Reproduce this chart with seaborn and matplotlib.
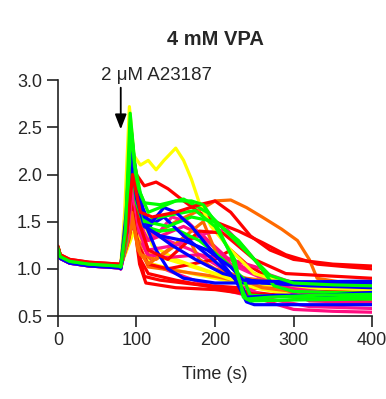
import pandas as pd
import seaborn as sns
import matplotlib.pyplot as plt

# shared resting baseline before the ionophore is added
base_t = [0, 3, 15, 40, 60, 78]
base_v = [1.22, 1.13, 1.08, 1.05, 1.04, 1.03]

# each cell trace after addition: (time s, ratio)
red_a = [(80, 1.03), (87, 1.6), (94, 2.3), (100, 2.0), (110, 1.88), (125, 1.92), (140, 1.85), (160, 1.72), (180, 1.6), (200, 1.5), (230, 1.4), (260, 1.28), (290, 1.15), (330, 1.05), (370, 1.02), (400, 1.0)]
red_b = [(80, 1.04), (88, 1.4), (95, 2.0), (105, 1.6), (120, 1.55), (150, 1.6), (180, 1.68), (200, 1.72), (220, 1.6), (245, 1.35), (270, 1.2), (300, 1.1), (350, 1.05), (400, 1.03)]
red_c = [(80, 1.02), (90, 1.35), (97, 1.5), (105, 1.1), (115, 0.95), (150, 0.88), (200, 0.8), (250, 0.75), (300, 0.7), (400, 0.66)]
red_d = [(80, 1.03), (89, 1.4), (95, 1.85), (102, 1.2), (110, 0.92), (130, 0.88), (180, 0.83), (230, 0.8), (300, 0.78), (400, 0.75)]
red_e = [(80, 1.03), (90, 1.3), (96, 1.55), (104, 1.05), (112, 0.85), (150, 0.8), (200, 0.78), (236, 0.74), (280, 0.72), (400, 0.7)]
red_f = [(80, 1.04), (88, 1.5), (95, 2.05), (103, 1.5), (115, 1.2), (140, 1.1), (180, 1.4), (210, 1.38), (250, 1.1), (290, 0.95), (400, 0.9)]
red_g = [(80, 1.03), (88, 1.3), (94, 1.7), (102, 1.25), (115, 1.05), (140, 1.0), (170, 1.05), (200, 1.1), (220, 1.2), (240, 1.05), (270, 0.9), (330, 0.82), (400, 0.8)]
orange_a = [(80, 1.03), (88, 1.3), (95, 1.9), (105, 1.5), (120, 1.35), (150, 1.5), (180, 1.62), (200, 1.72), (220, 1.73), (240, 1.65), (260, 1.55), (285, 1.42), (305, 1.3), (320, 1.1), (330, 0.9), (360, 0.86), (400, 0.85)]
orange_b = [(80, 1.02), (88, 1.35), (94, 1.6), (102, 1.2), (115, 1.05), (140, 1.2), (170, 1.4), (185, 1.5), (200, 1.2), (215, 0.95), (260, 0.8), (320, 0.74), (400, 0.72)]
orange_c = [(80, 1.02), (89, 1.3), (96, 1.7), (104, 1.25), (115, 1.02), (150, 0.98), (200, 0.92), (240, 0.85), (300, 0.8), (400, 0.79)]
orange_d = [(80, 1.03), (88, 1.25), (95, 1.5), (105, 1.15), (125, 1.1), (150, 1.25), (165, 1.35), (180, 1.1), (200, 1.0), (240, 0.9), (300, 0.84), (400, 0.83)]
yellow_a = [(80, 1.03), (85, 1.6), (91, 2.72), (97, 2.2), (105, 2.1), (115, 2.15), (125, 2.05), (135, 2.15), (150, 2.28), (160, 2.15), (170, 1.95), (180, 1.7), (195, 1.45), (220, 1.2), (250, 0.95), (290, 0.85), (340, 0.8), (400, 0.78)]
yellow_b = [(80, 1.03), (85, 1.2), (91, 2.5), (98, 2.0), (106, 1.6), (120, 1.25), (150, 1.1), (200, 0.95), (250, 0.85), (300, 0.8), (400, 0.78)]
yellow_c = [(80, 1.03), (90, 1.25), (97, 1.4), (105, 1.15), (120, 1.05), (170, 0.95), (230, 0.85), (300, 0.75), (400, 0.72)]
yellow_d = [(80, 1.03), (88, 1.35), (95, 1.75), (103, 1.35), (120, 1.15), (160, 1.05), (210, 0.92), (250, 0.8), (300, 0.72), (400, 0.68)]
magenta_a = [(80, 1.0), (88, 1.4), (95, 2.0), (102, 1.6), (112, 1.3), (125, 1.35), (145, 1.55), (165, 1.5), (190, 1.3), (220, 1.05), (260, 0.9), (300, 0.78), (350, 0.7), (400, 0.68)]
magenta_b = [(80, 1.01), (88, 1.5), (95, 2.2), (103, 1.7), (115, 1.4), (140, 1.3), (170, 1.2), (210, 1.0), (240, 0.8), (270, 0.68), (320, 0.6), (400, 0.58)]
magenta_c = [(80, 1.0), (88, 1.3), (95, 1.9), (103, 1.45), (115, 1.2), (150, 1.25), (190, 1.38), (215, 1.42), (240, 1.2), (265, 0.95), (300, 0.85), (400, 0.8)]
magenta_d = [(80, 1.01), (88, 1.35), (95, 1.85), (103, 1.4), (115, 1.15), (140, 1.12), (180, 1.15), (220, 1.1), (260, 1.0), (290, 0.78), (320, 0.66), (400, 0.64)]
pink_a = [(80, 1.0), (88, 1.3), (96, 1.8), (105, 1.3), (120, 1.05), (150, 0.95), (200, 0.8), (250, 0.7), (280, 0.62), (300, 0.57), (350, 0.55), (400, 0.54)]
pink_b = [(80, 1.0), (88, 1.3), (95, 1.9), (103, 1.5), (115, 1.3), (140, 1.38), (160, 1.45), (185, 1.35), (215, 1.12), (250, 0.95), (290, 0.8), (350, 0.74), (400, 0.73)]
blue_a = [(80, 1.02), (87, 1.5), (93, 2.35), (100, 1.9), (110, 1.55), (120, 1.5), (135, 1.65), (150, 1.6), (170, 1.45), (190, 1.25), (210, 1.05), (236, 0.78), (240, 0.7), (280, 0.72), (340, 0.72), (400, 0.75)]
blue_b = [(80, 1.01), (88, 1.5), (94, 2.3), (100, 1.8), (110, 1.5), (125, 1.2), (140, 1.0), (160, 0.9), (200, 0.85), (250, 0.85), (300, 0.86), (400, 0.87)]
blue_c = [(80, 1.0), (88, 1.4), (95, 2.1), (102, 1.7), (115, 1.45), (135, 1.55), (160, 1.35), (190, 1.15), (225, 0.9), (240, 0.65), (250, 0.62), (300, 0.62), (400, 0.62)]
blue_d = [(80, 1.02), (87, 1.6), (93, 2.5), (99, 2.0), (108, 1.65), (120, 1.4), (145, 1.25), (175, 1.1), (210, 0.95), (260, 0.85), (320, 0.82), (400, 0.8)]
blue_e = [(80, 1.01), (87, 1.4), (94, 2.2), (100, 1.75), (110, 1.45), (130, 1.35), (160, 1.3), (190, 1.2), (220, 1.02), (236, 0.88), (260, 0.87), (330, 0.86), (400, 0.85)]
green_a = [(80, 1.02), (86, 1.4), (92, 2.65), (98, 2.1), (105, 1.8), (115, 1.6), (130, 1.65), (150, 1.72), (170, 1.72), (185, 1.68), (200, 1.5), (220, 1.15), (236, 0.75), (240, 0.68), (270, 0.7), (330, 0.72), (400, 0.73)]
green_b = [(80, 1.02), (87, 1.3), (93, 2.5), (100, 1.9), (110, 1.7), (130, 1.68), (160, 1.74), (190, 1.6), (220, 1.35), (250, 1.1), (270, 0.93), (300, 0.85), (350, 0.83), (400, 0.82)]
green_c = [(80, 1.03), (87, 1.4), (93, 2.4), (100, 1.9), (110, 1.5), (130, 1.55), (175, 1.62), (200, 1.45), (225, 1.1), (236, 0.7), (245, 0.66), (300, 0.67), (400, 0.68)]
green_d = [(80, 1.03), (87, 1.5), (93, 2.3), (100, 1.8), (112, 1.5), (140, 1.45), (170, 1.55), (200, 1.5), (230, 1.3), (255, 1.05), (275, 0.82), (300, 0.76), (400, 0.74)]
green_e = [(80, 1.03), (88, 1.4), (94, 2.1), (100, 1.7), (110, 1.45), (130, 1.4), (150, 1.42), (180, 1.3), (210, 1.1), (236, 0.9), (245, 0.72), (300, 0.7), (400, 0.7)]

RED, ORANGE, YELLOW = "#ff0000", "#ff6a00", "#ffff00"
MAGENTA, PINK, BLUE, GREEN = "#ff1493", "#ff0d80", "#0000ff", "#00ff00"

# drawing order, back to front
traces = {
    "red_a": (red_a, RED), "orange_a": (orange_a, ORANGE),
    "pink_a": (pink_a, PINK), "red_c": (red_c, RED),
    "yellow_c": (yellow_c, YELLOW), "orange_c": (orange_c, ORANGE),
    "red_d": (red_d, RED), "magenta_b": (magenta_b, MAGENTA),
    "yellow_d": (yellow_d, YELLOW), "red_g": (red_g, RED),
    "yellow_b": (yellow_b, YELLOW), "red_e": (red_e, RED),
    "magenta_a": (magenta_a, MAGENTA), "pink_b": (pink_b, PINK),
    "orange_d": (orange_d, ORANGE), "magenta_d": (magenta_d, PINK),
    "orange_b": (orange_b, ORANGE), "magenta_c": (magenta_c, MAGENTA),
    "blue_b": (blue_b, BLUE), "yellow_a": (yellow_a, YELLOW),
    "red_f": (red_f, RED), "blue_d": (blue_d, BLUE),
    "green_e": (green_e, GREEN), "blue_c": (blue_c, BLUE),
    "green_d": (green_d, GREEN), "blue_e": (blue_e, BLUE),
    "green_c": (green_c, GREEN), "blue_a": (blue_a, BLUE),
    "green_b": (green_b, GREEN), "red_b": (red_b, RED),
    "green_a": (green_a, GREEN),
}

rows = []
for name, (pts, col) in traces.items():
    shift = pts[0][1] - 1.02
    for t, v in zip(base_t, base_v):
        rows.append((name, t, v + shift))
    for t, v in pts:
        rows.append((name, t, v))
df = pd.DataFrame(rows, columns=["cell", "time", "ratio"])

sns.set_style("ticks")
plt.rcParams["font.family"] = ["Liberation Sans", "DejaVu Sans"]

fig = plt.figure(figsize=(3.86, 3.99), dpi=100)
ax = fig.add_axes([0.150, 0.208, 0.814, 0.591])

sns.lineplot(data=df, x="time", y="ratio", hue="cell",
             palette={k: c for k, (p, c) in traces.items()},
             estimator=None, sort=False, legend=False, linewidth=2.3, ax=ax)

ax.set_xlim(0, 400)
ax.set_ylim(0.5, 3.0)
ax.set_xticks([0, 100, 200, 300, 400])
ax.set_yticks([0.5, 1.0, 1.5, 2.0, 2.5, 3.0])
ax.set_yticklabels(["0.5", "1.0", "1.5", "2.0", "2.5", "3.0"])
ax.set_xlabel("Time (s)", fontsize=13, labelpad=12)
ax.set_ylabel("")
ax.tick_params(labelsize=13, length=8, width=1.2, color="#222222")
for s in ["left", "bottom"]:
    ax.spines[s].set_linewidth(1.2)
    ax.spines[s].set_color("#222222")
sns.despine(ax=ax)

ax.set_title("4 mM VPA", fontsize=14.5, fontweight="bold", pad=25)
ax.annotate("", xy=(80, 2.45), xytext=(80, 2.95),
            arrowprops=dict(arrowstyle="-|>,head_length=0.9,head_width=0.35",
                            color="black", lw=1.3), annotation_clip=False)
ax.text(125, 3.05, "2 μM A23187", fontsize=13.5, ha="center", va="center")

fig.savefig("out.png", dpi=100)
